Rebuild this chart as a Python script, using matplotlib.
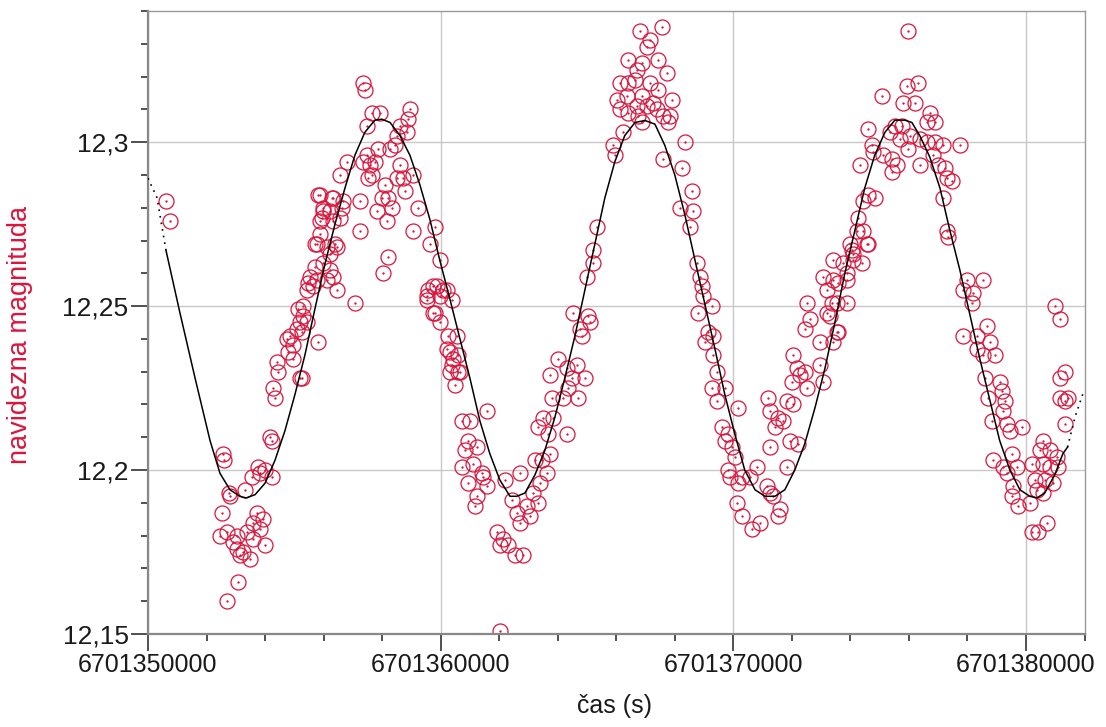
"""
Svetlobna krivulja - navidezna magnituda v odvisnosti od casa,
z meritvami (krozci) in prilegano sinusno krivuljo.
"""
import matplotlib
matplotlib.use("Agg")
import matplotlib.pyplot as plt
from matplotlib.ticker import MultipleLocator, FixedLocator, FuncFormatter
import numpy as np

# ─── Podatki ────────────────────────────────────────────────────────────────
T0 = 6701350000            # zacetek casovne osi (s)

# meritve: cas od T0 (s) in magnituda
obs_dt = [
    615, 752, 2562, 2596, 4168, 4236, 2767, 2528, 2801, 3314, 3553, 3758, 3997, 4236, 3826,
    2460, 2699, 2904, 3040, 3143, 3484, 3723, 3928, 3587, 3382, 3587, 3997, 3245, 3040, 3826,
    3074, 2699, 4407, 4441, 4270, 4338, 4748, 4851, 4953, 5090, 5192, 5261, 5295, 5431, 5124,
    5466, 5636, 5773, 5807, 5192, 4953, 4782, 5705, 5978, 6217, 6456, 6320, 6217, 6115, 5705,
    5876, 6456, 5944, 5978, 6320, 5876, 6217, 6627, 6559, 7344, 7413, 7652, 7925, 7481, 8950,
    8882, 8608, 8847, 8506, 8267, 8438, 7857, 7481, 7584, 7754, 7344, 7652, 7515, 6798, 8608,
    8711, 8506, 9052, 8779, 8096, 8198, 7993, 7823, 8164, 8335, 5807, 6285, 6661, 7242, 5978,
    6559, 5876, 6320, 7242, 5773, 6388, 5534, 5431, 6115, 5295, 5261, 8198, 8028, 7071, 9052,
    9804, 9223, 9633, 9975, 9565, 9872, 10214, 10385, 9531, 9736, 9975, 10248, 10555, 10214, 10419,
    10316, 10658, 10487, 10726, 11000, 9736, 9531, 10077, 9975, 9804, 10316, 10590, 10385, 10590, 11580,
    10931, 10829, 11239, 10726, 11102, 11409, 10931, 11580, 11239, 11170, 11444, 12195, 12434, 12708, 12605,
    12708, 12947, 13152, 13322, 13049, 13220, 13630, 13391, 11922, 12127, 12298, 12024, 12810, 12537, 12024,
    13322, 13493, 13835, 13664, 14313, 13732, 13459, 13800, 13732, 14006, 14313, 14484, 14655, 14928, 14689,
    14176, 14347, 14825, 14757, 15030, 15099, 14518, 14996, 15201, 16807, 17558, 17148, 17046, 16397, 17422,
    16875, 17729, 16704, 16124, 16397, 16636, 17148, 17422, 17900, 16021, 16363, 16875, 16704, 17251, 16124,
    16397, 17046, 17388, 17592, 17832, 17763, 16738, 16875, 16226, 15884, 15953, 18344, 17592, 18241, 18583,
    18173, 18617, 18515, 15338, 15201, 18754, 18856, 18925, 18959, 18788, 19266, 19130, 19027, 19300, 19300,
    19437, 19266, 19710, 19437, 20154, 19608, 19813, 19710, 19949, 20052, 19813, 19881, 20154, 20291, 20564,
    20803, 20120, 20291, 20633, 20906, 21145, 21248, 21350, 21589, 21521, 21179, 21248, 21521, 21418, 21828,
    22033, 21692, 21931, 22204, 21248, 21828, 22033, 22170, 22272, 21999, 22511, 22443, 22956, 23058, 22511,
    22614, 22443, 22956, 23400, 23570, 23195, 23365, 23536, 23878, 23195, 23400, 23058, 23400, 23741, 24083,
    24390, 24049, 24561, 24219, 23878, 25962, 25927, 26303, 25073, 25791, 26201, 26713, 26884, 26611, 25518,
    25757, 24595, 25347, 25688, 26030, 26372, 26611, 26884, 27157, 27738, 24732, 24766, 25108, 25415, 25586,
    25962, 26372, 26816, 26986, 27226, 25415, 24322, 27294, 27465, 27157, 24595, 24424, 24834, 24254, 24424,
    24595, 23980, 24083, 23570, 23878, 23297, 23536, 27294, 27328, 27977, 28524, 27840, 28182, 28148, 28661,
    27840, 28319, 28763, 28319, 28934, 28524, 28592, 29104, 28694, 29173, 29275, 29207, 28831, 29343, 29856,
    29446, 28865, 29207, 29514, 29343, 29685, 29548, 29514, 29719, 30573, 30471, 30812, 31051, 30197, 30573,
    30812, 31086, 30300, 30642, 30915, 30368, 30573, 30129, 30197, 30402, 30710, 30983, 31154, 31324, 31154,
    31427, 31324, 31324, 31154,
]
obs_mag = [
    12.282, 12.276, 12.205, 12.203, 12.210, 12.209, 12.193, 12.187, 12.192, 12.194, 12.198, 12.201, 12.200, 12.198, 12.199,
    12.180, 12.181, 12.178, 12.176, 12.174, 12.173, 12.187, 12.185, 12.184, 12.181, 12.179, 12.177, 12.175, 12.180, 12.182,
    12.166, 12.160, 12.233, 12.230, 12.225, 12.222, 12.240, 12.241, 12.238, 12.243, 12.245, 12.242, 12.247, 12.245, 12.249,
    12.257, 12.256, 12.258, 12.239, 12.228, 12.234, 12.236, 12.262, 12.263, 12.261, 12.255, 12.259, 12.266, 12.268, 12.269,
    12.272, 12.268, 12.277, 12.280, 12.283, 12.284, 12.279, 12.280, 12.290, 12.318, 12.316, 12.309, 12.309, 12.305, 12.310,
    12.307, 12.305, 12.303, 12.302, 12.298, 12.299, 12.298, 12.296, 12.293, 12.294, 12.294, 12.290, 12.289, 12.294, 12.293,
    12.289, 12.289, 12.290, 12.285, 12.287, 12.283, 12.283, 12.279, 12.276, 12.280, 12.284, 12.283, 12.282, 12.282, 12.279,
    12.277, 12.276, 12.276, 12.273, 12.269, 12.269, 12.259, 12.255, 12.258, 12.250, 12.228, 12.265, 12.260, 12.251, 12.273,
    12.274, 12.280, 12.269, 12.264, 12.255, 12.256, 12.255, 12.252, 12.252, 12.248, 12.245, 12.241, 12.241, 12.237, 12.234,
    12.230, 12.230, 12.226, 12.215, 12.215, 12.256, 12.253, 12.255, 12.253, 12.248, 12.236, 12.235, 12.232, 12.230, 12.218,
    12.209, 12.206, 12.207, 12.201, 12.202, 12.199, 12.196, 12.195, 12.192, 12.189, 12.198, 12.197, 12.191, 12.199, 12.187,
    12.184, 12.189, 12.193, 12.190, 12.186, 12.203, 12.199, 12.196, 12.181, 12.179, 12.177, 12.177, 12.174, 12.174, 12.151,
    12.213, 12.216, 12.216, 12.211, 12.211, 12.205, 12.203, 12.222, 12.229, 12.234, 12.231, 12.228, 12.232, 12.228, 12.222,
    12.222, 12.225, 12.241, 12.243, 12.247, 12.245, 12.248, 12.259, 12.263, 12.334, 12.335, 12.331, 12.329, 12.325, 12.325,
    12.324, 12.321, 12.322, 12.318, 12.318, 12.319, 12.318, 12.316, 12.313, 12.313, 12.314, 12.314, 12.311, 12.312, 12.310,
    12.309, 12.311, 12.310, 12.308, 12.308, 12.306, 12.308, 12.306, 12.303, 12.299, 12.296, 12.300, 12.295, 12.292, 12.285,
    12.280, 12.279, 12.274, 12.274, 12.267, 12.263, 12.259, 12.256, 12.253, 12.248, 12.250, 12.242, 12.239, 12.241, 12.235,
    12.230, 12.225, 12.225, 12.221, 12.219, 12.213, 12.211, 12.209, 12.207, 12.204, 12.200, 12.198, 12.196, 12.198, 12.198,
    12.201, 12.190, 12.186, 12.182, 12.184, 12.195, 12.193, 12.192, 12.188, 12.186, 12.222, 12.218, 12.216, 12.213, 12.221,
    12.220, 12.215, 12.209, 12.208, 12.207, 12.201, 12.235, 12.231, 12.229, 12.227, 12.225, 12.230, 12.232, 12.227, 12.251,
    12.246, 12.243, 12.239, 12.239, 12.242, 12.248, 12.251, 12.251, 12.251, 12.255, 12.258, 12.259, 12.264, 12.263, 12.264,
    12.263, 12.267, 12.269, 12.273, 12.260, 12.334, 12.317, 12.318, 12.314, 12.312, 12.312, 12.309, 12.306, 12.306, 12.305,
    12.305, 12.304, 12.303, 12.301, 12.302, 12.301, 12.300, 12.300, 12.299, 12.299, 12.299, 12.297, 12.296, 12.295, 12.293,
    12.298, 12.293, 12.296, 12.293, 12.292, 12.291, 12.293, 12.289, 12.288, 12.283, 12.284, 12.282, 12.283, 12.277, 12.273,
    12.269, 12.269, 12.266, 12.257, 12.258, 12.247, 12.242, 12.273, 12.271, 12.258, 12.258, 12.255, 12.254, 12.251, 12.244,
    12.241, 12.241, 12.239, 12.237, 12.235, 12.235, 12.228, 12.227, 12.222, 12.224, 12.221, 12.218, 12.215, 12.214, 12.213,
    12.212, 12.203, 12.201, 12.205, 12.199, 12.201, 12.195, 12.192, 12.189, 12.209, 12.206, 12.206, 12.204, 12.202, 12.202,
    12.201, 12.201, 12.197, 12.197, 12.196, 12.194, 12.193, 12.190, 12.181, 12.181, 12.184, 12.250, 12.246, 12.230, 12.222,
    12.222, 12.221, 12.214, 12.228,
]

# prilegana krivulja (odcitane tocke)
fit_dt = [
    0, 310, 615, 1090, 1610, 2120, 2460, 2800, 3140, 3350, 3660, 4000, 4340, 4680, 5020,
    5360, 5700, 6050, 6390, 6730, 7070, 7410, 7750, 7990, 8270, 8610, 8950, 9290, 9630, 9970,
    10320, 10660, 11000, 11340, 11680, 12020, 12370, 12600, 12880, 13220, 13560, 13900, 14240, 14590, 14930,
    15270, 15610, 15950, 16290, 16640, 16980, 17320, 17660, 18000, 18340, 18690, 19030, 19370, 19710, 20050,
    20390, 20740, 21080, 21420, 21760, 22100, 22440, 22790, 23130, 23470, 23810, 24150, 24490, 24830, 25180,
    25520, 25860, 26100, 26370, 26710, 27060, 27400, 27740, 28080, 28420, 28760, 29100, 29450, 29790, 30130,
    30370, 30640, 30980, 31260, 31420, 31670, 31990,
]
fit_mag = [
    12.289, 12.283, 12.267, 12.248, 12.228, 12.209, 12.199, 12.194, 12.192, 12.1915, 12.1925, 12.196, 12.203, 12.212, 12.223,
    12.235, 12.249, 12.263, 12.275, 12.286, 12.296, 12.303, 12.3067, 12.307, 12.306, 12.302, 12.296, 12.287, 12.2765, 12.264,
    12.252, 12.240, 12.228, 12.215, 12.205, 12.197, 12.192, 12.192, 12.193, 12.1985, 12.206, 12.216, 12.228, 12.241, 12.255,
    12.269, 12.283, 12.294, 12.302, 12.306, 12.3066, 12.3055, 12.299, 12.290, 12.278, 12.264, 12.2505, 12.237, 12.223, 12.211,
    12.200, 12.194, 12.192, 12.192, 12.194, 12.200, 12.208, 12.219, 12.231, 12.245, 12.260, 12.273, 12.286, 12.296, 12.303,
    12.3067, 12.3067, 12.306, 12.302, 12.2955, 12.286, 12.273, 12.261, 12.2475, 12.234, 12.2215, 12.209, 12.200, 12.194, 12.192,
    12.1915, 12.193, 12.1985, 12.205, 12.207, 12.216, 12.2245,
]

X_MAJOR = [0, 10000, 20000, 30000]

RED = "#DC143C"
OUTPUT_PNG = "out.png"


def fmt_mag(v, pos):
    return f"{v:.2f}".rstrip("0").rstrip(".").replace(".", ",")


def main():
    plt.rcParams["font.family"] = ["Liberation Sans", "DejaVu Sans"]

    fig = plt.figure(figsize=(11.06, 7.27), dpi=100)
    ax = fig.add_axes([0.1338, 0.1279, 0.8468, 0.857])

    t_obs = T0 + np.array(obs_dt, dtype=float)
    m_obs = np.array(obs_mag)
    t_fit = T0 + np.array(fit_dt, dtype=float)
    m_fit = np.array(fit_mag)

    # krivulja: polna znotraj obmocja meritev, pikcasta zunaj
    inside = (t_fit >= t_obs.min()) & (t_fit <= t_obs.max())
    idx = np.where(inside)[0]
    i0, i1 = idx[0], idx[-1]
    ax.plot(t_fit[i0:i1 + 1], m_fit[i0:i1 + 1], color="black", lw=1.1, zorder=3)
    ax.plot(t_fit[:i0 + 1], m_fit[:i0 + 1], color="black", lw=1.2,
            ls=(0, (1, 3)), zorder=3)
    ax.plot(t_fit[i1:], m_fit[i1:], color="black", lw=1.2,
            ls=(0, (1, 3)), zorder=3)

    # meritve: krozec s piko v sredini
    ax.plot(t_obs, m_obs, ls="none", marker="o", ms=10.8, mfc="none",
            mec=RED, mew=0.9, zorder=2)
    ax.plot(t_obs, m_obs, ls="none", marker="o", ms=1.3, mfc=RED,
            mec=RED, mew=0.3, zorder=2)

    ax.set_xlim(T0, T0 + 32000)
    ax.set_ylim(12.15, 12.34)

    ax.xaxis.set_major_locator(FixedLocator([T0 + v for v in X_MAJOR]))
    ax.xaxis.set_minor_locator(MultipleLocator(2000))
    ax.xaxis.set_major_formatter(FuncFormatter(lambda v, p: f"{v:.0f}"))
    ax.yaxis.set_major_locator(MultipleLocator(0.05))
    ax.yaxis.set_minor_locator(MultipleLocator(0.01))
    ax.yaxis.set_major_formatter(FuncFormatter(fmt_mag))

    ax.tick_params(which="major", length=12, width=1.2, color="#333333",
                   labelsize=18, labelcolor="#1a1a1a", pad=2)
    ax.tick_params(which="minor", length=5, width=1.2, color="#333333")
    ax.tick_params(axis="y", which="major", labelsize=19)

    ax.grid(True, which="major", color="#c8c8c8", lw=1.0, zorder=0)
    ax.set_axisbelow(True)

    for side in ("left", "bottom"):
        ax.spines[side].set_color("#888888")
        ax.spines[side].set_linewidth(1.6)
    for side in ("top", "right"):
        ax.spines[side].set_color("#999999")
        ax.spines[side].set_linewidth(1.0)

    ax.set_xlabel("čas (s)", fontsize=18, color="#1a1a1a")
    ax.xaxis.label.set_va("center")
    ax.xaxis.set_label_coords(0.4976, -0.1156)

    ax.set_ylabel("navidezna magnituda", fontsize=19.5, color=RED)
    ax.yaxis.label.set_va("center")
    ax.yaxis.set_label_coords(-0.137, 0.48)

    fig.savefig(OUTPUT_PNG, dpi=100)
    plt.close(fig)


if __name__ == "__main__":
    main()
